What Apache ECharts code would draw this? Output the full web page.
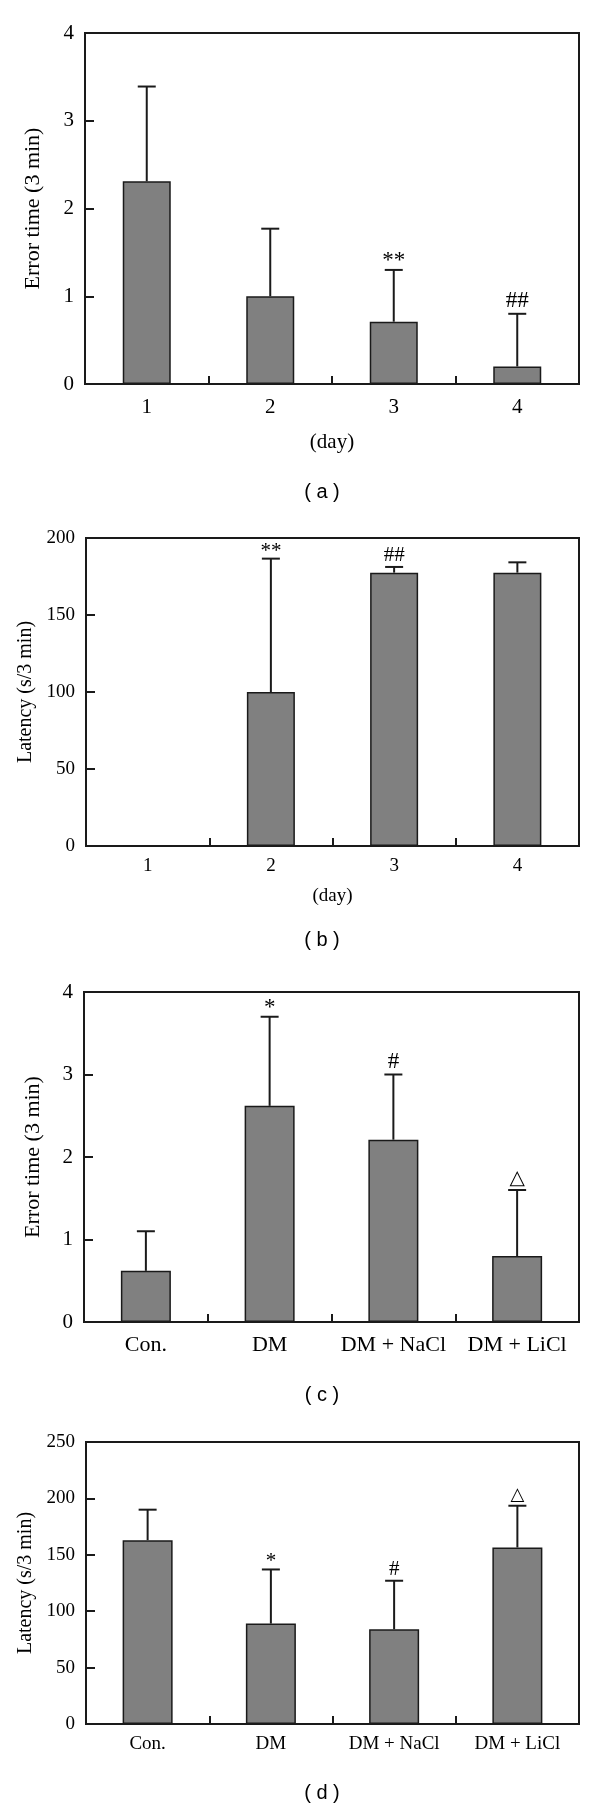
<!DOCTYPE html>
<html>
<head>
<meta charset="utf-8">
<script src="https://cdn.jsdelivr.net/npm/echarts@6/dist/echarts.min.js"></script>
<style>
html,body{margin:0;padding:0;background:#fff;}
#chart{width:600px;height:1808px;}
</style>
</head>
<body>
<div id="chart"></div>
<script>
// ---------- data ----------
const dayCategories = ['1', '2', '3', '4'];
const groupCategories = ['Con.', 'DM', 'DM + NaCl', 'DM + LiCl'];

// (a) error time by day
const errorTimeDayMean = [2.31, 1.0, 0.71, 0.2];
const errorTimeDaySD   = [1.08, 0.77, 0.59, 0.6];
const errorTimeDayMark = ['', '', '**', '##'];

// (b) latency by day
const latencyDayMean = [0, 100, 177.5, 177.5];
const latencyDaySD   = [0, 86.6, 3.7, 6.7];
const latencyDayMark = ['', '**', '##', ''];

// (c) error time by group
const errorTimeGroupMean = [0.62, 2.62, 2.21, 0.80];
const errorTimeGroupSD   = [0.48, 1.08, 0.79, 0.80];
const errorTimeGroupMark = ['', '*', '#', '\u25B3'];

// (d) latency by group
const latencyGroupMean = [163, 89, 84, 156.5];
const latencyGroupSD   = [27, 48, 43, 37];
const latencyGroupMark = ['', '*', '#', '\u25B3'];

const yTicksError = [0, 4, 1];     // min, max, interval
const yTicksLatencyB = [0, 200, 50];
const yTicksLatencyD = [0, 250, 50];

// ---------- layout ----------
const INK = '#1a1a1a';
const SERIF = '"Liberation Serif", "Times New Roman", serif';
const panels = [
  {grid:{left:85, top:33, width:494, height:351}, cats:dayCategories, mean:errorTimeDayMean, sd:errorTimeDaySD, mark:errorTimeDayMark,
   y:yTicksError, yName:'Error time (3 min)', xName:'(day)', fs:21, xfs:21, barW:48, xMargin:13, xNameGap:48, yNameGap:41, letter:'( a )', letterY:492},
  {grid:{left:86, top:538, width:493, height:308}, cats:dayCategories, mean:latencyDayMean, sd:latencyDaySD, mark:latencyDayMark,
   y:yTicksLatencyB, yName:'Latency (s/3 min)', xName:'(day)', fs:19, xfs:19, barW:48, xMargin:11, xNameGap:41, yNameGap:45, letter:'( b )', letterY:940},
  {grid:{left:84, top:992, width:495, height:330}, cats:groupCategories, mean:errorTimeGroupMean, sd:errorTimeGroupSD, mark:errorTimeGroupMark,
   y:yTicksError, yName:'Error time (3 min)', xName:'', fs:21, xfs:22, barW:50, xMargin:12, xNameGap:40, yNameGap:40, letter:'( c )', letterY:1395},
  {grid:{left:86, top:1442, width:493, height:282}, cats:groupCategories, mean:latencyGroupMean, sd:latencyGroupSD, mark:latencyGroupMark,
   y:yTicksLatencyD, yName:'Latency (s/3 min)', xName:'', fs:19, xfs:19, barW:50, xMargin:11, xNameGap:40, yNameGap:45, letter:'( d )', letterY:1793}
];

const option = {
  animation: false,
  backgroundColor: '#fff',
  grid: [], xAxis: [], yAxis: [], series: [], graphic: []
};

panels.forEach((p, k) => {
  option.grid.push(Object.assign({show:true, borderColor:INK, borderWidth:2, backgroundColor:'transparent'}, p.grid));
  option.xAxis.push({
    type:'category', gridIndex:k, data:p.cats,
    axisLine:{show:true, lineStyle:{color:INK, width:2}},
    axisTick:{show:true, inside:true, length:8, lineStyle:{color:INK, width:2}},
    axisLabel:{color:'#000', fontFamily:SERIF, fontSize:p.xfs, margin:p.xMargin, interval:0, hideOverlap:false},
    name:p.xName, nameLocation:'middle', nameGap:p.xNameGap,
    nameTextStyle:{color:'#000', fontFamily:SERIF, fontSize:p.fs},
    splitLine:{show:false}
  });
  option.yAxis.push({
    type:'value', gridIndex:k, min:p.y[0], max:p.y[1], interval:p.y[2],
    axisLine:{show:true, lineStyle:{color:INK, width:2}},
    axisTick:{show:true, inside:true, length:9, lineStyle:{color:INK, width:2}},
    axisLabel:{color:'#000', fontFamily:SERIF, fontSize:p.fs, margin:11},
    name:p.yName, nameLocation:'middle', nameGap:p.yNameGap, nameRotate:90,
    nameTextStyle:{color:'#000', fontFamily:SERIF, fontSize:p.fs + 1},
    splitLine:{show:false}
  });
  option.series.push({
    type:'bar', xAxisIndex:k, yAxisIndex:k, data:p.mean, barWidth:p.barW,
    itemStyle:{color:'#808080', borderColor:INK, borderWidth:1.5},
    z:2
  });
  const marks = p.mark;
  const markSize = p.fs + 2;
  option.series.push({
    type:'custom', xAxisIndex:k, yAxisIndex:k,
    data:p.mean.map((m, i) => [i, m, p.sd[i]]),
    encode:{x:0, y:[1, 2]},
    z:3,
    renderItem:function(params, api){
      const i = api.value(0), m = api.value(1), s = api.value(2);
      const children = [];
      if (s > 0) {
        const p0 = api.coord([i, m]);
        const p1 = api.coord([i, m + s]);
        children.push({type:'line', shape:{x1:p0[0], y1:p0[1], x2:p1[0], y2:p1[1]}, style:{stroke:INK, lineWidth:2}});
        children.push({type:'line', shape:{x1:p1[0]-9, y1:p1[1], x2:p1[0]+9, y2:p1[1]}, style:{stroke:INK, lineWidth:2}});
        const t = marks[params.dataIndex];
        if (t) {
          const isStar = t.indexOf('*') >= 0;
          const isTri = t === '\u25B3';
          children.push({type:'text', x:p1[0], y:p1[1] - (isStar ? -3 : 1),
            style:{text:t, fill:'#000', align:'center', verticalAlign:'bottom',
              fontFamily: isTri ? '"DejaVu Sans", sans-serif' : SERIF,
              fontSize: isTri ? markSize - 3 : markSize}});
        }
      }
      return {type:'group', children:children};
    }
  });
});

// panel letters
option.graphic = panels.map(p => ({
  type:'text', x:322, y:p.letterY,
  style:{text:p.letter, fill:'#000', fontFamily:'"Liberation Sans", Arial, sans-serif', fontSize:20, align:'center', verticalAlign:'middle'}
}));

const chart = echarts.init(document.getElementById('chart'), null, {renderer:'canvas', width:600, height:1808});
chart.setOption(option);
</script>
</body>
</html>
